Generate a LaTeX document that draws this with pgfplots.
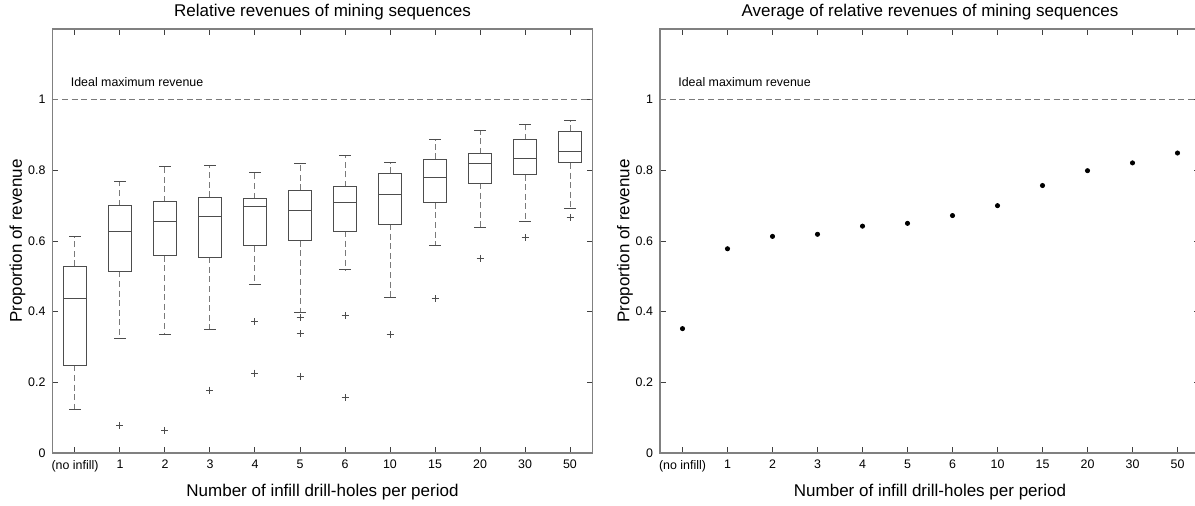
\documentclass[border=0pt]{standalone}
\usepackage{fontspec}
\setmainfont{Liberation Sans}
\usepackage{pgfplots}
\pgfplotsset{compat=1.18}
\usepgfplotslibrary{statistics}
\definecolor{axgray}{HTML}{808080}
\definecolor{boxc}{HTML}{4D4D4D}
\definecolor{whc}{HTML}{7A7A7A}
\pgfplotsset{
 myaxis/.style={
  scale only axis, width=270pt, height=212pt,
  xmin=-0.5, xmax=11.5, ymin=0, ymax=1.2,
  xtick={0,...,11},
  xticklabels={(no infill),1,2,3,4,5,6,10,15,20,30,50},
  ytick={0,0.2,0.4,0.6,0.8,1},
  yticklabels={0,0.2,0.4,0.6,0.8,1},
  xtick pos=both, ytick pos=both,
  xticklabel pos=lower, yticklabel pos=left,
  tick align=inside,
  major tick length=2.8pt,
  tick style={black!75, line width=0.5pt},
  axis line style={axgray, line width=0.6pt},
  ticklabel style={font=\fontsize{6.2}{7}\selectfont},
  /pgf/number format/assume math mode=true,
  label style={font=\fontsize{8.5}{10}\selectfont},
  title style={font=\fontsize{8.5}{10}\selectfont, at={(axis description cs:0.5,1.012)}, anchor=center},
  xlabel style={at={(axis description cs:0.5,-0.092)}, anchor=center},
  ylabel style={at={(axis description cs:-0.065,0.5)}, anchor=center},
  xlabel={Number of infill drill-holes per period},
  ylabel={Proportion of revenue},
 },
 boxplot/draw/lower whisker/.code={
  \draw[whc, line width=0.5pt, dash pattern=on 3pt off 1.8pt] (boxplot box cs:\pgfplotsboxplotvalue{lower quartile},0.5) -- (boxplot box cs:\pgfplotsboxplotvalue{lower whisker},0.5);
  \draw[boxc, line width=0.5pt] (boxplot whisker cs:\pgfplotsboxplotvalue{lower whisker},0) -- (boxplot whisker cs:\pgfplotsboxplotvalue{lower whisker},1);
 },
 boxplot/draw/upper whisker/.code={
  \draw[whc, line width=0.5pt, dash pattern=on 3pt off 1.8pt] (boxplot box cs:\pgfplotsboxplotvalue{upper quartile},0.5) -- (boxplot box cs:\pgfplotsboxplotvalue{upper whisker},0.5);
  \draw[boxc, line width=0.5pt] (boxplot whisker cs:\pgfplotsboxplotvalue{upper whisker},0) -- (boxplot whisker cs:\pgfplotsboxplotvalue{upper whisker},1);
 },
 bx/.style={boxc, line width=0.5pt, mark=+, mark size=1.75pt, mark options={solid, boxc, line width=0.5pt}},
 bp/.style n args={6}{boxplot prepared={draw direction=y, draw position=#1, lower whisker=#2, lower quartile=#3, median=#4, upper quartile=#5, upper whisker=#6, box extend=0.5, whisker extend=0.25}},
}
\begin{document}
\begin{tikzpicture}
\begin{axis}[myaxis, at={(0pt,0pt)}, anchor=south west, title={Relative revenues of mining sequences}]
\addplot[whc, line width=0.5pt, dash pattern=on 3pt off 1.8pt] coordinates {(-0.5,1) (11.5,1)};
\node[anchor=west, font=\fontsize{6.2}{7}\selectfont, inner sep=0pt] at (axis cs:-0.1,1.05) {Ideal maximum revenue};
\addplot[bx, bp={0}{0.122}{0.248}{0.436}{0.528}{0.613}] coordinates {};
\addplot[bx, bp={1}{0.324}{0.514}{0.628}{0.700}{0.767}] table[row sep=\\, y index=0] {d\\ 0.077\\};
\addplot[bx, bp={2}{0.336}{0.558}{0.656}{0.711}{0.812}] table[row sep=\\, y index=0] {d\\ 0.064\\};
\addplot[bx, bp={3}{0.349}{0.554}{0.668}{0.724}{0.813}] table[row sep=\\, y index=0] {d\\ 0.178\\};
\addplot[bx, bp={4}{0.477}{0.586}{0.698}{0.720}{0.793}] table[row sep=\\, y index=0] {d\\ 0.372\\ 0.226\\};
\addplot[bx, bp={5}{0.398}{0.601}{0.687}{0.744}{0.819}] table[row sep=\\, y index=0] {d\\ 0.383\\ 0.338\\ 0.217\\};
\addplot[bx, bp={6}{0.518}{0.628}{0.710}{0.753}{0.843}] table[row sep=\\, y index=0] {d\\ 0.388\\ 0.157\\};
\addplot[bx, bp={7}{0.441}{0.648}{0.732}{0.792}{0.823}] table[row sep=\\, y index=0] {d\\ 0.334\\};
\addplot[bx, bp={8}{0.587}{0.708}{0.779}{0.831}{0.886}] table[row sep=\\, y index=0] {d\\ 0.437\\};
\addplot[bx, bp={9}{0.639}{0.764}{0.818}{0.847}{0.914}] table[row sep=\\, y index=0] {d\\ 0.551\\};
\addplot[bx, bp={10}{0.654}{0.788}{0.833}{0.886}{0.931}] table[row sep=\\, y index=0] {d\\ 0.609\\};
\addplot[bx, bp={11}{0.691}{0.821}{0.852}{0.910}{0.940}] table[row sep=\\, y index=0] {d\\ 0.667\\};
\end{axis}
\begin{axis}[myaxis, at={(303.75pt,0pt)}, anchor=south west, title={Average of relative revenues of mining sequences}]
\addplot[whc, line width=0.5pt, dash pattern=on 3pt off 1.8pt] coordinates {(-0.5,1) (11.5,1)};
\node[anchor=west, font=\fontsize{6.2}{7}\selectfont, inner sep=0pt] at (axis cs:-0.1,1.05) {Ideal maximum revenue};
\addplot[only marks, mark=*, mark size=1.05pt, black] coordinates {(0,0.352) (1,0.578) (2,0.613) (3,0.619) (4,0.642) (5,0.650) (6,0.672) (7,0.700) (8,0.757) (9,0.799) (10,0.821) (11,0.849)};
\end{axis}
\pgfresetboundingbox
\path[use as bounding box] (-26.25pt,-26pt) rectangle (571.25pt,226.5pt);
\end{tikzpicture}
\end{document}
